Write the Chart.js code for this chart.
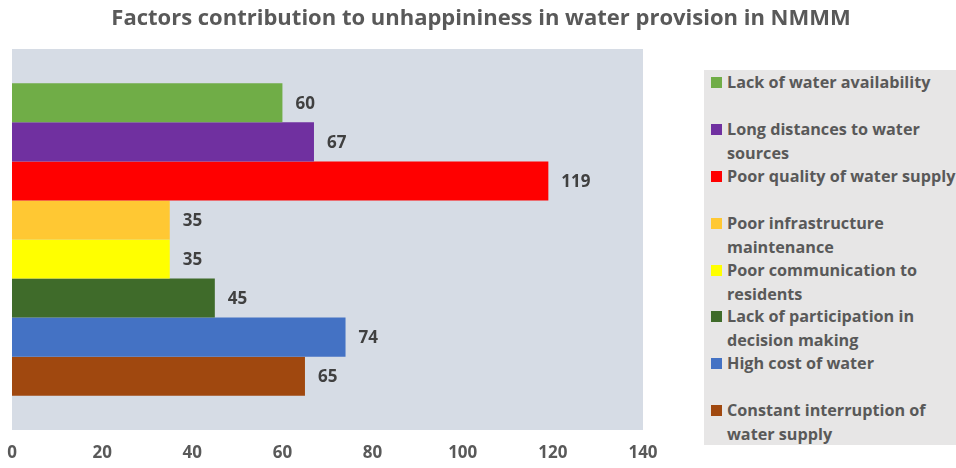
<!DOCTYPE html>
<html>
<head>
<meta charset="utf-8">
<script src="https://cdn.jsdelivr.net/npm/chart.js@4.4.0/dist/chart.umd.min.js"></script>
<style>
    html, body { margin: 0; padding: 0; background: #ffffff; overflow: hidden; }
    #wrap { position: relative; width: 956px; height: 468px; }
    #legend {
        position: absolute; left: 704px; top: 70px; width: 300px; height: 375px;
        background: #e7e6e6; font-family: "Open Sans", sans-serif; font-weight: bold;
        font-size: 16.2px; color: #595959;
    }
    #legend .item { position: relative; height: 46.9px; line-height: 24px; padding-left: 23px; white-space: nowrap; }
    #legend .box { position: absolute; left: 7px; top: 7px; width: 11px; height: 11px; }
</style>
</head>
<body>
<div id="wrap">
    <canvas id="chart" width="956" height="468"></canvas>
    <div id="legend"></div>
</div>
<script>
// Factors and number of responses
const title = "Factors contribution to unhappininess in water provision in NMMM";
const factors = [
    ["Lack of water availability"],
    ["Long distances to water", "sources"],
    ["Poor quality of water supply"],
    ["Poor infrastructure", "maintenance"],
    ["Poor communication to", "residents"],
    ["Lack of participation in", "decision making"],
    ["High cost of water"],
    ["Constant interruption of", "water supply"]
];
const responses = [60, 67, 119, 35, 35, 45, 74, 65];
const colors = ["#70ad47", "#7030a0", "#ff0000", "#ffc833", "#ffff00", "#3f6b2a", "#4472c4", "#a0480f"];
const xTicks = [0, 20, 40, 60, 80, 100, 120, 140];

// Fill plot area background
const plotBg = {
    id: "plotBg",
    beforeDraw(chart) {
        const { ctx, chartArea } = chart;
        ctx.save();
        ctx.fillStyle = "#d6dce5";
        ctx.fillRect(chartArea.left, chartArea.top, chartArea.right - chartArea.left, chartArea.bottom - chartArea.top);
        ctx.restore();
    }
};

// Title centred across the whole figure, not just the plot
const figTitle = {
    id: "figTitle",
    afterDraw(chart) {
        const ctx = chart.ctx;
        ctx.save();
        ctx.font = "bold 22px 'Open Sans'";
        ctx.fillStyle = "#595959";
        ctx.textAlign = "center";
        ctx.textBaseline = "middle";
        ctx.fillText(title, 481, 19);
        ctx.restore();
    }
};

// Values next to each bar
const barValues = {
    id: "barValues",
    afterDatasetsDraw(chart) {
        const ctx = chart.ctx;
        ctx.save();
        ctx.font = "bold 17px 'Open Sans'";
        ctx.fillStyle = "#404040";
        ctx.textAlign = "left";
        ctx.textBaseline = "middle";
        chart.data.datasets.forEach((ds, i) => {
            const bar = chart.getDatasetMeta(i).data[0];
            ctx.fillText(ds.data[0], bar.x + 13, bar.y + 1);
        });
        ctx.restore();
    }
};

// Legend built as html so labels can wrap on two lines
const htmlLegend = {
    id: "htmlLegend",
    afterUpdate(chart) {
        const legend = document.getElementById("legend");
        legend.innerHTML = "";
        chart.data.datasets.forEach(ds => {
            const item = document.createElement("div");
            item.className = "item";
            const box = document.createElement("span");
            box.className = "box";
            box.style.background = ds.backgroundColor;
            item.append(box);
            ds.label.forEach((line, j) => {
                if (j > 0) item.append(document.createElement("br"));
                item.append(document.createTextNode(line));
            });
            legend.append(item);
        });
    }
};

const datasets = factors.map((name, i) => ({
    label: name,
    data: [responses[i]],
    backgroundColor: colors[i],
    borderWidth: 0,
    categoryPercentage: 0.82,
    barPercentage: 1
}));

new Chart(document.getElementById("chart"), {
    type: "bar",
    data: { labels: [""], datasets: datasets },
    options: {
        indexAxis: "y",
        responsive: false,
        animation: false,
        layout: { padding: { left: 12, right: 313, top: 49, bottom: 0 } },
        plugins: {
            legend: { display: false },
            tooltip: { enabled: false },
            title: { display: false }
        },
        scales: {
            x: {
                min: 0,
                max: 140,
                afterBuildTicks(axis) { axis.ticks = xTicks.map(v => ({ value: v })); },
                afterFit(axis) {
                    axis.height = 38;
                    axis.paddingLeft = 0;
                    axis.paddingRight = 0;
                },
                grid: { display: false, drawTicks: false },
                border: { display: false },
                ticks: {
                    padding: 13,
                    color: "#595959",
                    font: { family: "Open Sans", size: 17, weight: "bold" }
                }
            },
            y: { display: false }
        }
    },
    plugins: [plotBg, barValues, figTitle, htmlLegend]
});
</script>
</body>
</html>
